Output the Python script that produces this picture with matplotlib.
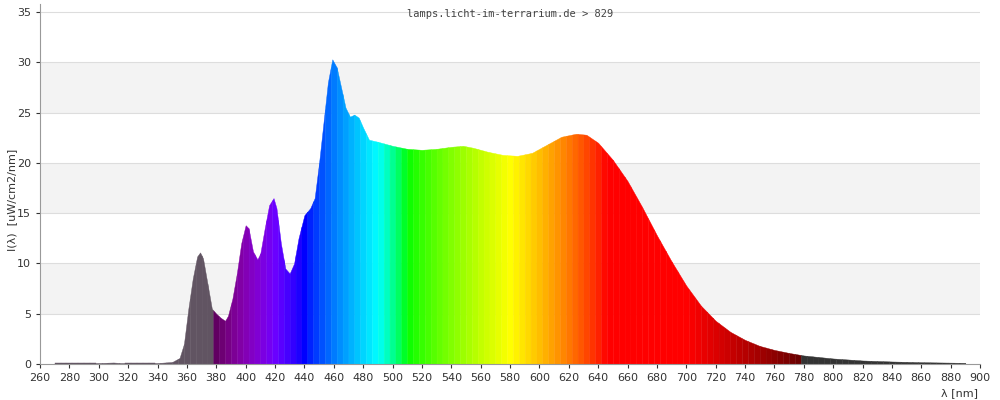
import matplotlib
matplotlib.use("Agg")
import matplotlib.pyplot as plt
import numpy as np

# spectrum (nm, uW/cm2/nm)
wavelengths = [270, 300, 310, 315, 340, 350, 355, 358, 361, 364, 367, 369, 371, 374, 377,
               380, 383, 386, 388, 391, 394, 397, 400, 402, 405, 408, 410, 413, 416, 419,
               421, 424, 427, 430, 433, 436, 440, 444, 447, 450, 453, 456, 459, 462, 465,
               468, 471, 474, 477, 480, 484, 490, 495, 500, 510, 520, 530, 540, 548, 555,
               565, 575, 585, 595, 605, 615, 625, 632, 640, 650, 660, 670, 680, 690, 700,
               710, 720, 730, 740, 750, 760, 770, 780, 790, 800, 820, 840, 860, 888]
intensity = [0.1, 0.1, 0.15, 0.1, 0.1, 0.2, 0.6, 2.0, 5.5, 8.5, 10.7, 11.1, 10.5, 8.0, 5.5,
             5.0, 4.6, 4.3, 4.8, 6.5, 9.0, 12.0, 13.8, 13.5, 11.2, 10.4, 11.0, 13.5, 15.8, 16.5,
             15.5, 12.0, 9.5, 9.0, 10.0, 12.5, 14.8, 15.5, 16.5, 20.0, 24.0, 28.0, 30.3, 29.5, 27.5,
             25.5, 24.6, 24.8, 24.5, 23.5, 22.3, 22.1, 21.9, 21.7, 21.4, 21.3, 21.4, 21.6, 21.7, 21.5,
             21.1, 20.8, 20.7, 21.0, 21.8, 22.6, 22.9, 22.8, 22.0, 20.3, 18.2, 15.6, 12.8, 10.2, 7.8,
             5.8, 4.3, 3.2, 2.4, 1.8, 1.4, 1.1, 0.85, 0.7, 0.55, 0.35, 0.25, 0.18, 0.12]

x_ticks = list(range(260, 901, 20))
y_ticks = list(range(0, 36, 5))


def wl_color(w):
    if w < 380:
        return "#615462"
    if w >= 780:
        return "#333333"
    if w < 440:
        r, g, b = -(w - 440) / 60, 0, 1
    elif w < 490:
        r, g, b = 0, (w - 440) / 50, 1
    elif w < 510:
        r, g, b = 0, 1, -(w - 510) / 20
    elif w < 580:
        r, g, b = (w - 510) / 70, 1, 0
    elif w < 645:
        r, g, b = 1, -(w - 645) / 65, 0
    else:
        r, g, b = 1, 0, 0
    if w < 420:
        f = 0.3 + 0.7 * (w - 380) / 40
    elif w > 700:
        f = 0.3 + 0.7 * (780 - w) / 80
    else:
        f = 1
    return tuple((c * f) ** 0.8 if c > 0 else 0 for c in (r, g, b))


fig = plt.figure(figsize=(10, 4), dpi=100)
ax = fig.add_axes([0.04, 0.09, 0.94, 0.90])

for lo in (5, 15, 25):
    ax.axhspan(lo, lo + 5, color="#f3f3f3", zorder=0, lw=0)
for y in y_ticks[1:]:
    ax.axhline(y, color="#dddddd", lw=0.8, zorder=0.5)

step = 4
for s in range(wavelengths[0], wavelengths[-1], step):
    xs = np.linspace(s, s + step, 5)
    ys = np.interp(xs, wavelengths, intensity)
    ax.fill_between(xs, 0, ys, color=wl_color(s + step / 2), lw=0.3, zorder=2)

ax.set_xlim(260, 900)
ax.set_ylim(0, 35.8)
ax.set_xticks(x_ticks)
ax.set_yticks(y_ticks)
ax.tick_params(labelsize=8, colors="#333333", length=3)
for sp in ("top", "right"):
    ax.spines[sp].set_visible(False)
for sp in ("left", "bottom"):
    ax.spines[sp].set_color("#999999")

fig.text(0.012, 0.5, "I(λ)  [uW/cm2/nm]", rotation=90, ha="center", va="center",
         fontsize=8, color="#333333")
fig.text(0.978, 0.005, "λ [nm]", ha="right", va="bottom", fontsize=8, color="#333333")
ax.text(0.5, 0.985, "lamps.licht-im-terrarium.de > 829", transform=ax.transAxes,
        ha="center", va="top", fontsize=7.5, family="DejaVu Sans Mono", color="#444444")

fig.savefig("out.png")
